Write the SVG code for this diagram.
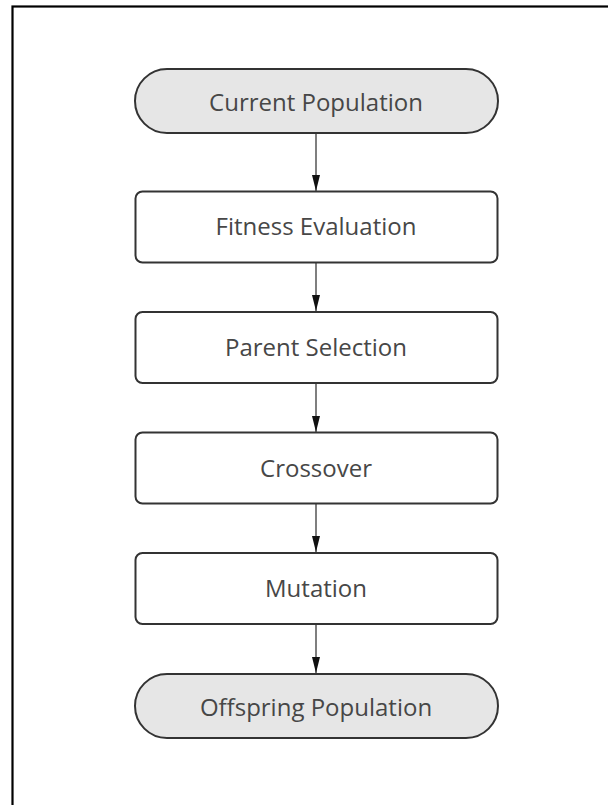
<svg xmlns="http://www.w3.org/2000/svg" width="608" height="805" viewBox="0 0 608 805">
  <defs>
    <marker id="arrow" markerWidth="16" markerHeight="8" refX="16" refY="4" orient="auto" markerUnits="userSpaceOnUse">
      <path d="M0,0 L16,4 L0,8 Z" fill="#111"/>
    </marker>
    <style>
      .terminal { fill: #e6e6e6; stroke: #333; stroke-width: 2; }
      .step { fill: #ffffff; stroke: #333; stroke-width: 2; }
      .label { font-family: "Open Sans", "Noto Sans", sans-serif; font-size: 24px; fill: #474747; text-anchor: middle; dominant-baseline: central; }
      .edge { stroke: #555; stroke-width: 1.5; fill: none; }
    </style>
  </defs>
  <rect width="608" height="805" fill="#ffffff"/>
  <!-- page frame -->
  <rect x="12.5" y="6.5" width="620" height="830" fill="none" stroke="#000" stroke-width="2.2"/>

  <g id="connectors">
    <line class="edge" x1="316" y1="134" x2="316" y2="191" marker-end="url(#arrow)"/>
    <line class="edge" x1="316" y1="263" x2="316" y2="311" marker-end="url(#arrow)"/>
    <line class="edge" x1="316" y1="384" x2="316" y2="432" marker-end="url(#arrow)"/>
    <line class="edge" x1="316" y1="504" x2="316" y2="552" marker-end="url(#arrow)"/>
    <line class="edge" x1="316" y1="624" x2="316" y2="673" marker-end="url(#arrow)"/>
  </g>

  <g id="current-population">
    <rect class="terminal" x="135" y="69" width="363" height="64" rx="32"/>
    <text class="label" x="316" y="101">Current Population</text>
  </g>
  <g id="fitness-evaluation">
    <rect class="step" x="135.5" y="191.5" width="362" height="71" rx="7"/>
    <text class="label" x="316" y="225">Fitness Evaluation</text>
  </g>
  <g id="parent-selection">
    <rect class="step" x="135.5" y="312" width="362" height="71" rx="7"/>
    <text class="label" x="316" y="346">Parent Selection</text>
  </g>
  <g id="crossover">
    <rect class="step" x="135.5" y="432.5" width="362" height="71" rx="7"/>
    <text class="label" x="316" y="467">Crossover</text>
  </g>
  <g id="mutation">
    <rect class="step" x="135.5" y="553" width="362" height="71" rx="7"/>
    <text class="label" x="316" y="587">Mutation</text>
  </g>
  <g id="offspring-population">
    <rect class="terminal" x="135" y="674" width="363" height="64" rx="32"/>
    <text class="label" x="316" y="706">Offspring Population</text>
  </g>
</svg>
